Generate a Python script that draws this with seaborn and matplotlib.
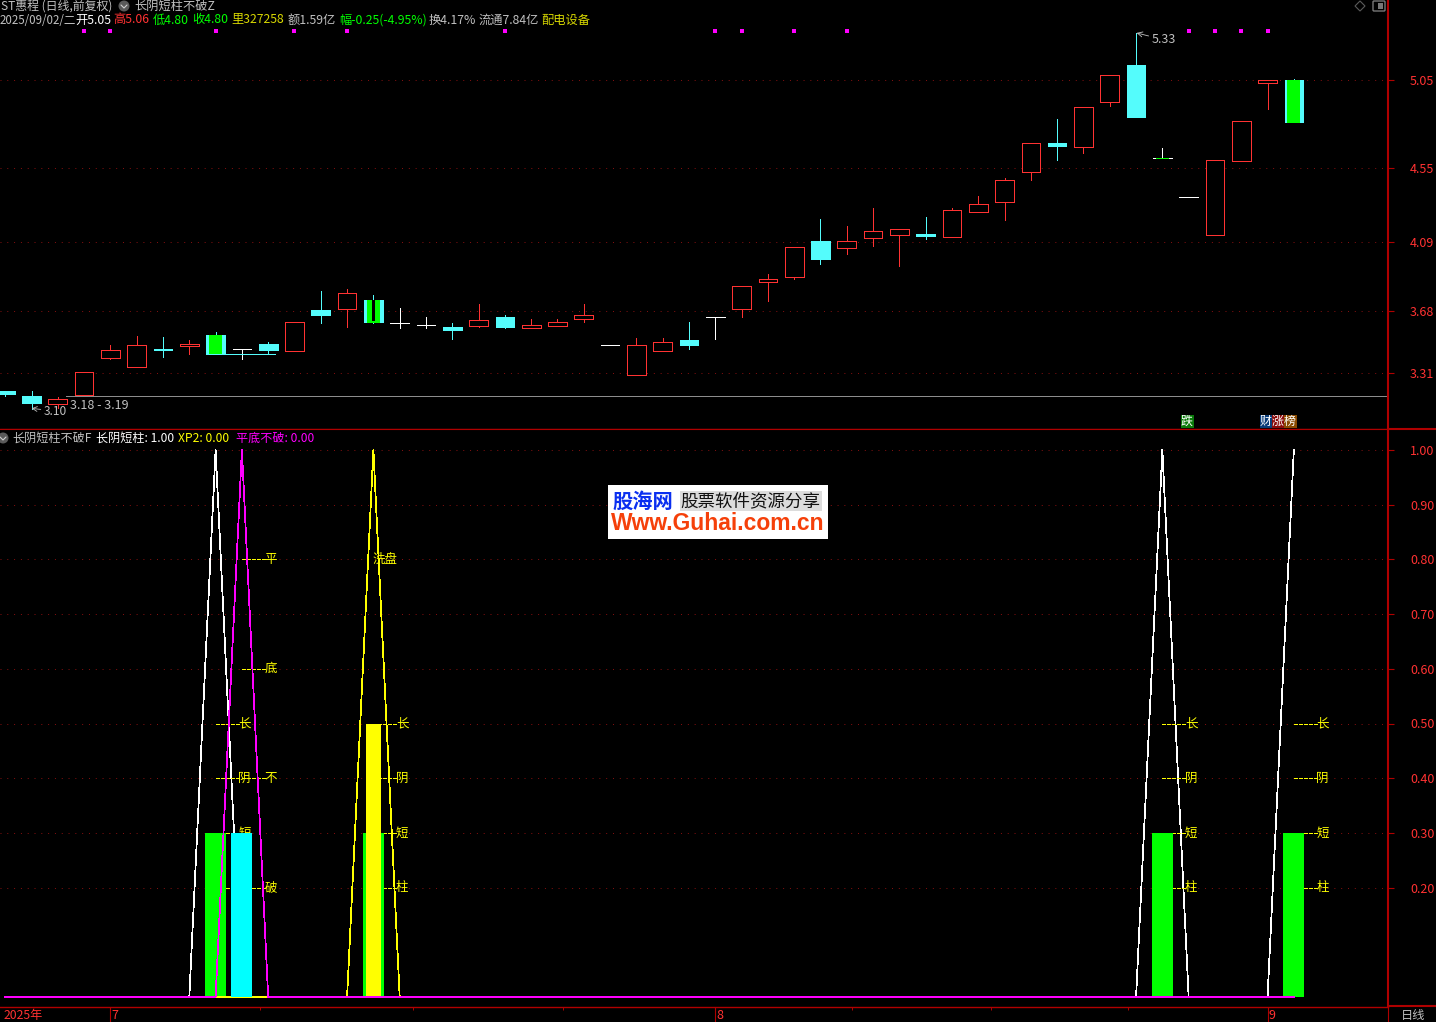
import pandas as pd
import matplotlib
matplotlib.use('Agg')
import matplotlib.pyplot as plt
from matplotlib.patches import Rectangle, Circle, Polygon, FancyBboxPatch
from matplotlib.transforms import ScaledTranslation
import seaborn as sns

# ---- datos ----
kinds = ['c', 'c', 'r', 'r', 'r', 'r', 'c', 'r', 'c', 'w',
         'c', 'r', 'c', 'r', 'c', 'w', 'w', 'c', 'r', 'c',
         'r', 'r', 'r', 'w', 'r', 'r', 'c', 'w', 'r', 'r',
         'r', 'c', 'r', 'r', 'r', 'c', 'r', 'r', 'r', 'r',
         'c', 'r', 'r', 'c', 'w', 'w', 'r', 'r', 'r', 'c']
body_top = [3.203, 3.173, 3.156, 3.316, 3.447, 3.476, 3.453, 3.482, 3.536, 3.453,
            3.482, 3.613, 3.684, 3.785, 3.744, 3.607, 3.595, 3.583, 3.625, 3.643,
            3.595, 3.613, 3.655, 3.476, 3.476, 3.494, 3.506, 3.643, 3.827, 3.868,
            4.058, 4.094, 4.094, 4.153, 4.165, 4.136, 4.278, 4.314, 4.456, 4.676,
            4.676, 4.890, 5.080, 5.140, 4.587, 4.355, 4.575, 4.807, 5.050, 5.050]
body_bot = [3.185, 3.132, 3.126, 3.179, 3.399, 3.346, 3.447, 3.470, 3.423, 3.453,
            3.447, 3.441, 3.655, 3.690, 3.613, 3.607, 3.595, 3.565, 3.589, 3.583,
            3.577, 3.589, 3.631, 3.476, 3.298, 3.441, 3.476, 3.643, 3.690, 3.851,
            3.880, 3.987, 4.053, 4.112, 4.130, 4.124, 4.118, 4.266, 4.326, 4.504,
            4.658, 4.652, 4.920, 4.831, 4.587, 4.355, 4.130, 4.569, 5.033, 4.801]
high = [3.203, 3.203, 3.167, 3.316, 3.476, 3.530, 3.524, 3.506, 3.554, 3.453,
        3.494, 3.613, 3.797, 3.809, 3.773, 3.696, 3.643, 3.607, 3.720, 3.655,
        3.631, 3.631, 3.720, 3.476, 3.518, 3.518, 3.613, 3.643, 3.827, 3.898,
        4.058, 4.225, 4.183, 4.290, 4.165, 4.237, 4.290, 4.361, 4.468, 4.676,
        4.819, 4.890, 5.080, 5.330, 4.647, 4.355, 4.575, 4.807, 5.050, 5.056]
low = [3.173, 3.096, 3.102, 3.179, 3.393, 3.346, 3.405, 3.423, 3.423, 3.393,
       3.423, 3.441, 3.607, 3.583, 3.607, 3.577, 3.577, 3.512, 3.583, 3.577,
       3.577, 3.589, 3.613, 3.476, 3.298, 3.441, 3.453, 3.512, 3.643, 3.738,
       3.868, 3.957, 4.017, 4.064, 3.946, 4.106, 4.118, 4.266, 4.219, 4.456,
       4.575, 4.617, 4.896, 4.831, 4.587, 4.355, 4.130, 4.569, 4.878, 4.801]

overlay_idx = [8, 14, 44, 49]
overlay_top = [3.536, 3.744, 4.590, 5.050]
overlay_bot = [3.423, 3.607, 4.584, 4.795]
signal_idx = [3, 4, 8, 11, 13, 19, 27, 28, 30, 32, 45, 46, 47, 48]
signal_price = [5.34] * 14

price_ticks = [5.05, 4.53, 4.09, 3.68, 3.31]
price_labels = ['5.05', '4.55', '4.09', '3.68', '3.31']

long_yin = [0, 0, 0, 0, 0, 0, 0, 0, 1, 0, 0, 0, 0, 0, 0, 0, 0, 0, 0, 0, 0, 0, 0, 0, 0,
            0, 0, 0, 0, 0, 0, 0, 0, 0, 0, 0, 0, 0, 0, 0, 0, 0, 0, 0, 1, 0, 0, 0, 0, 1]
xp2 = [0, 0, 0, 0, 0, 0, 0, 0, 0, 0, 0, 0, 0, 0, 1, 0, 0, 0, 0, 0, 0, 0, 0, 0, 0,
       0, 0, 0, 0, 0, 0, 0, 0, 0, 0, 0, 0, 0, 0, 0, 0, 0, 0, 0, 0, 0, 0, 0, 0, 0]
flat_base = [0, 0, 0, 0, 0, 0, 0, 0, 0, 1, 0, 0, 0, 0, 0, 0, 0, 0, 0, 0, 0, 0, 0, 0, 0,
             0, 0, 0, 0, 0, 0, 0, 0, 0, 0, 0, 0, 0, 0, 0, 0, 0, 0, 0, 0, 0, 0, 0, 0, 0]
bar_green = [0, 0, 0, 0, 0, 0, 0, 0, .3, 0, 0, 0, 0, 0, .3, 0, 0, 0, 0, 0, 0, 0, 0, 0, 0,
             0, 0, 0, 0, 0, 0, 0, 0, 0, 0, 0, 0, 0, 0, 0, 0, 0, 0, 0, .3, 0, 0, 0, 0, .3]
bar_cyan = [0, 0, 0, 0, 0, 0, 0, 0, 0, .3, 0, 0, 0, 0, 0, 0, 0, 0, 0, 0, 0, 0, 0, 0, 0,
            0, 0, 0, 0, 0, 0, 0, 0, 0, 0, 0, 0, 0, 0, 0, 0, 0, 0, 0, 0, 0, 0, 0, 0, 0]
bar_yellow = [0, 0, 0, 0, 0, 0, 0, 0, 0, 0, 0, 0, 0, 0, .5, 0, 0, 0, 0, 0, 0, 0, 0, 0, 0,
              0, 0, 0, 0, 0, 0, 0, 0, 0, 0, 0, 0, 0, 0, 0, 0, 0, 0, 0, 0, 0, 0, 0, 0, 0]
ind_ticks = [1.0, .9, .8, .7, .6, .5, .4, .3, .2]

# etiquetas verticales del indicador: (vela, valor, texto)
word_long = [(i, v, t) for i in (8, 14, 44, 49)
             for v, t in zip([.5, .4, .3, .2], ['长', '阴', '短', '柱'])]
word_base = [(9, .8, '平'), (9, .6, '底'), (9, .4, '不'), (9, .2, '破')]

month_pos = [4, 27, 48]
month_labels = ['7', '8', '9']
minor_pos = [9.7, 15.5, 21.2, 32.2, 37.5, 42.7]

RED = '#ff3232'
DARK_RED = '#b00000'
CYAN = '#54fcfc'
GREEN = '#00ff00'
YELLOW = '#ffff00'
MAGENTA = '#ff00ff'
GREY = '#c0c0c0'
colores = {'r': RED, 'c': CYAN, 'w': '#ffffff'}
THIN = 0.55

sns.set_theme(style='dark', rc={'figure.facecolor': 'black', 'axes.facecolor': 'black',
                                'savefig.facecolor': 'black'})
plt.rcParams['font.family'] = ['Noto Sans CJK SC', 'DejaVu Sans']

W, H = 1436, 1022
fig = plt.figure(figsize=(W / 100, H / 100), dpi=100)
ax1 = fig.add_axes([0, (H - 429) / H, 1388 / W, 429 / H])
ax2 = fig.add_axes([0, (H - 1007) / H, 1388 / W, 577 / H])
top = fig.add_axes([0, 0, 1, 1], zorder=10)
top.set_xlim(0, W)
top.set_ylim(H, 0)
top.axis('off')
top.patch.set_alpha(0)

idx = list(range(50))
df = pd.DataFrame({'idx': idx, 'top': body_top, 'bot': body_bot, 'high': high, 'low': low,
                   'kind': kinds, 'long_yin': long_yin, 'xp2': xp2, 'flat_base': flat_base,
                   'bar_green': bar_green, 'bar_cyan': bar_cyan, 'bar_yellow': bar_yellow})
df['color'] = df['kind'].map(colores)

# ---- panel de velas ----
ax1.vlines(df['idx'], df['low'], df['high'], colors=df['color'], linewidth=THIN, antialiased=False, zorder=2)
faces = ['black' if k == 'r' else colores[k] for k in kinds]
ax1.bar(df['idx'], df['top'] - df['bot'], bottom=df['bot'], width=0.71, color=faces,
        edgecolor=df['color'], linewidth=THIN, antialiased=False, zorder=3)
ax1.bar(overlay_idx, [a - b for a, b in zip(overlay_top, overlay_bot)], bottom=overlay_bot,
        width=0.49, color=GREEN, linewidth=0, antialiased=False, zorder=4)
ax1.bar([14], [0.128], bottom=[3.616], width=0.12, color='black', linewidth=0, zorder=5)
ax1.hlines(3.423, 7.75, 10.27, colors=CYAN, linewidth=THIN, antialiased=False, zorder=2)
ax1.hlines(3.176, 2.3, 53, colors='#8c8c8c', linewidth=THIN, antialiased=False, zorder=2)
sns.scatterplot(x=signal_idx, y=signal_price, marker='s', s=9, color=MAGENTA, linewidth=0, ax=ax1, zorder=5)

ax1.annotate('5.33', xy=(43.02, 5.33), xytext=(11, -5), textcoords='offset points', color=GREY,
             fontsize=9, va='center', arrowprops=dict(arrowstyle='->', color=GREY, lw=0.6, shrinkA=0, shrinkB=0))
ax1.annotate('3.10', xy=(1, 3.10), xytext=(9, -2), textcoords='offset points', color=GREY,
             fontsize=8.6, va='center', arrowprops=dict(arrowstyle='->', color=GREY, lw=0.6, shrinkA=0, shrinkB=0))
ax1.text(2.45, 3.118, '3.18 - 3.19', color=GREY, fontsize=9, va='center')

# ---- panel del indicador ----
bar_kw = dict(native_scale=True, saturation=1, errorbar=None, linewidth=0, ax=ax2)
sns.lineplot(data=df, x='idx', y='long_yin', color='white', linewidth=THIN, estimator=None,
             antialiased=False, ax=ax2, zorder=2)
sns.barplot(data=df, x='idx', y='bar_green', color=GREEN, width=0.8, zorder=2.6, **bar_kw)
sns.lineplot(data=df, x='idx', y='xp2', color=YELLOW, linewidth=THIN, estimator=None,
             antialiased=False, ax=ax2, zorder=2.7)
sns.barplot(data=df, x='idx', y='bar_yellow', color=YELLOW, width=0.57, zorder=3, **bar_kw)
sns.barplot(data=df, x='idx', y='bar_cyan', color='#00ffff', width=0.8, zorder=3, **bar_kw)
sns.lineplot(data=df, x='idx', y='flat_base', color=MAGENTA, linewidth=THIN, estimator=None,
             antialiased=False, ax=ax2, zorder=5)
# la base se ve mas gruesa que las diagonales
for a, b in [(0, 8), (10, 49)]:
    ax2.hlines(0, a, b, colors=MAGENTA, linewidth=1.1, antialiased=False, zorder=4)
for a, b in [(8, 9), (9, 10)]:
    ax2.hlines(0, a, b, colors=YELLOW, linewidth=1.1, antialiased=False, zorder=2.9)

for i, v, t in word_long + word_base:
    ax2.hlines(v, i, i + 0.88, colors=YELLOW, linewidth=THIN, linestyles=(0, (4, 1.5)), antialiased=False, zorder=2.2)
    ax2.text(i + 0.86, v, t, color=YELLOW, fontsize=9, va='center', zorder=2.3)
ax2.text(13.98, .8, '洗盘', color=YELLOW, fontsize=9, va='center', zorder=2.3)

# ---- ejes ----
ax1.set_xlim(-0.198, 52.58)
ax2.set_xlim(-0.198, 52.58)
ax1.set_ylim(5.5256 - 0.00594 * 429, 5.5256)
ax2.set_ylim(-10 / 547, 567 / 547)
ax1.set_xticks([])
ax1.set_yticks(price_ticks, price_labels)
ax2.set_yticks(ind_ticks, [f'{v:.2f}' for v in ind_ticks])
ax2.set_xticks(month_pos, month_labels, ha='left')
ax2.set_xticks(minor_pos, minor=True)
ax2.set_xlabel('')
ax2.set_ylabel('')
ax1.set_ylabel('')
ax2.tick_params(axis='x', which='major', length=10.8, width=0.8, color=DARK_RED, labelcolor=RED,
                labelsize=9, pad=-9.6, bottom=True)
ax2.tick_params(axis='x', which='minor', length=2.2, width=0.7, color=DARK_RED, bottom=True)
for lab in ax2.get_xticklabels():
    lab.set_transform(lab.get_transform() + ScaledTranslation(1 / 100, 0, fig.dpi_scale_trans))

for ax in (ax1, ax2):
    ax.yaxis.tick_right()
    ax.tick_params(axis='y', length=4.3, width=0.8, color=DARK_RED, labelcolor=RED, labelsize=9,
                   pad=11.5, right=True)
    ax.grid(axis='y', color='#8a1010', linewidth=0.7, linestyle=(0, (1, 6)))
    ax.grid(axis='x', visible=False)
    ax.set_axisbelow(True)
    for s in ax.spines.values():
        s.set_visible(False)
    ax.spines['right'].set_visible(True)
    ax.spines['right'].set_color(DARK_RED)
    ax.spines['right'].set_linewidth(1.5)
    ax.spines['bottom'].set_visible(True)
    ax.spines['bottom'].set_color(DARK_RED)
    ax.spines['bottom'].set_linewidth(1.0)

# ---- textos de cabecera y decoracion ----
def label(x, y, s, color=GREY, size=8.8, **kw):
    top.text(x, y, s, color=color, fontsize=size, va='center', ha='left', **kw)

label(1, 6, 'ST惠程 (日线,前复权)', GREY, 8.6)
label(134, 6, '长阴短柱不破Z')
dim_yellow = '#d8d800'
label(0, 20, '2025/09/02/二', GREY, 8.3)
for x, s, c in [(75, '开5.05', 'white'), (113, '高5.06', RED),
                (153, '低4.80', GREEN), (192, '收4.80', GREEN), (231, '里327258', dim_yellow),
                (288, '额1.59亿', GREY), (339, '幅-0.25(-4.95%)', GREEN), (429, '换4.17%', GREY),
                (479, '流通7.84亿', GREY), (541, '配电设备', dim_yellow)]:
    label(x, 20, s, c)
for x, s, c in [(12, '长阴短柱不破F', GREY), (96, '长阴短柱: 1.00', 'white'),
                (178, 'XP2: 0.00', YELLOW), (236, '平底不破: 0.00', MAGENTA)]:
    label(x, 438, s, c, 8.7)
label(4, 1015, '2025年', RED)
label(1401, 1015, '日线', GREY)

# circulos y controles de la interfaz
for cx, cy in [(124, 6), (3, 438)]:
    top.add_patch(Circle((cx, cy), 5.5, color='#5a5a5a', lw=0))
    top.plot([cx - 3, cx, cx + 3], [cy - 1, cy + 2, cy - 1], color='#d0d0d0', lw=0.8)
top.add_patch(Polygon([(1360, 1), (1365, 6), (1360, 11), (1355, 6)], closed=True, fill=False, ec='#5a5a5a', lw=0.8))
top.add_patch(FancyBboxPatch((1374, 2), 10, 8, boxstyle='round,pad=1', fc='black', ec='#777777', lw=1))
top.add_patch(Rectangle((1378, 3), 5, 6, color='#777777', lw=0))

# separadores de la columna derecha
top.plot([1388, W], [429.5, 429.5], color=DARK_RED, lw=1.5)
top.plot([1388, W], [1006, 1006], color=DARK_RED, lw=1.5)
top.plot([0, 1388], [429.5, 429.5], color=DARK_RED, lw=0.8)
top.plot([1388, 1388], [1007, H], color=DARK_RED, lw=0.8)

# insignias sobre el panel
for x, w, c, s in [(1181, 13, '#0a7a0a', '跌'), (1260, 12, '#0a3c78', '财'),
                   (1272, 12, '#8a0a0a', '涨'), (1284, 13, '#8a4a00', '榜')]:
    top.add_patch(Rectangle((x, 415), w, 13, color=c, lw=0))
    label(x, 421.5, s, 'white', 8.6)

# marca de agua
top.add_patch(Rectangle((608, 485), 220, 54, color='white', lw=0))
top.add_patch(Rectangle((680, 491), 142, 20, color='#dcdcdc', lw=0))
label(612, 501, '股海网', '#0a2ff0', 14.6, fontweight='bold')
label(680, 501, '股票软件资源分享', '#111111', 12.6)
label(611, 523, 'Www.Guhai.com.cn', '#f5400a', 16.5, fontweight='bold', family=['Liberation Sans'])

fig.savefig('out.png', dpi=100)
